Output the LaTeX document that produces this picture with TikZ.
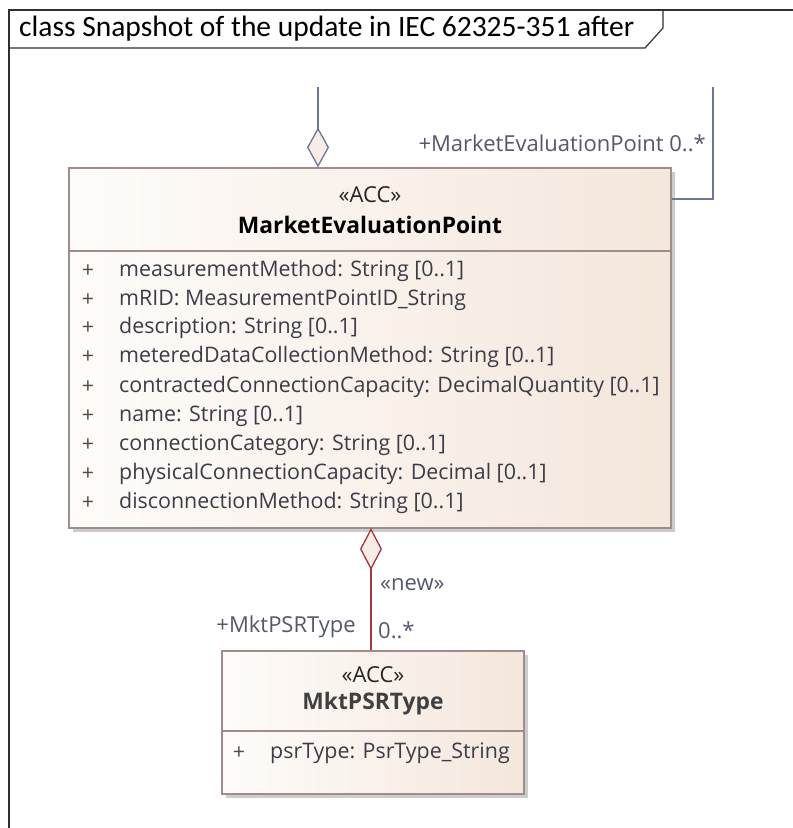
\documentclass[tikz,border=0pt]{standalone}
\usepackage{fontspec}
\setmainfont{Open Sans}
\newfontfamily\titlefont{Carlito}
\usetikzlibrary{arrows.meta,shadows,calc}
\definecolor{framecol}{HTML}{303030}
\definecolor{boxborder}{HTML}{A08C8C}
\definecolor{fillL}{HTML}{FEFCFA}
\definecolor{fillR}{HTML}{F4E7DC}
\definecolor{shadowcol}{HTML}{CCCCCC}
\definecolor{attrcol}{HTML}{3C3C48}
\definecolor{conncol}{HTML}{6B7894}
\definecolor{redcol}{HTML}{A3363C}
\definecolor{labcol}{HTML}{55586A}
\definecolor{diafill}{HTML}{F7ECE6}
\tikzset{
  classbox/.style={draw=boxborder, line width=1.2pt, shading=axis, left color=fillL, right color=fillR, inner sep=0pt,
    drop shadow={shadow xshift=4pt, shadow yshift=-4pt, fill=shadowcol, opacity=1}},
  divider/.style={draw=boxborder, line width=1.2pt},
  stereo/.style={font=\fontsize{22}{25}\selectfont, text=black!85, inner sep=0pt},
  cname/.style={font=\bfseries\fontsize{22.8}{26}\selectfont, text=black, inner sep=0pt},
  attr/.style={font=\fontsize{21.4}{24}\selectfont, text=attrcol, anchor=west, inner sep=0pt},
  plus/.style={font=\fontsize{21.4}{24}\selectfont, text=attrcol!80!brown, inner sep=0pt},
  conn/.style={draw=conncol, line width=1.3pt},
  redconn/.style={draw=redcol, line width=1.3pt},
  lab/.style={font=\fontsize{22}{25}\selectfont, text=labcol, inner sep=0pt},
}
\begin{document}
\begin{tikzpicture}[x=1pt,y=-1pt]
\useasboundingbox (0,0) rectangle (793,828);
% frame
\draw[framecol, line width=1.2pt] (9,828) -- (9,10) -- (793,10);
\draw[framecol, line width=1.2pt] (9,48) -- (645,48) -- (663,28) -- (663,10);
\node[anchor=west, inner sep=0pt, font=\titlefont\fontsize{29.5}{32}\selectfont] (title) at (19,29) {class Snapshot of the update in IEC 62325-351 after};

% MarketEvaluationPoint
\node[classbox, minimum width=602pt, minimum height=360pt] (mep) at (370,348) {};
\draw[divider] (mep.west |- 0,251) -- (mep.east |- 0,251);
\node[stereo] (mepst) at (370,195) {«ACC»};
\node[cname] (mepname) at (370,225) {MarketEvaluationPoint};
\foreach \y/\t [count=\i] in {271/{measurementMethod: String [0..1]},
  300/{mRID: MeasurementPointID\_String},
  328/{description: String [0..1]},
  357/{meteredDataCollectionMethod: String [0..1]},
  387/{contractedConnectionCapacity: DecimalQuantity [0..1]},
  416/{name: String [0..1]},
  445/{connectionCategory: String [0..1]},
  474/{physicalConnectionCapacity: Decimal [0..1]},
  503/{disconnectionMethod: String [0..1]}}{
  \node[plus] (mepp\i) at (88,\y) {+};
  \node[attr] (mepa\i) at (119,\y) {\t};
}

% MktPSRType
\node[classbox, minimum width=302pt, minimum height=143pt] (mkt) at (373,722.5) {};
\draw[divider] (mkt.west |- 0,731) -- (mkt.east |- 0,731);
\node[stereo] (mktst) at (373,675) {«ACC»};
\node[cname, text=black!75] (mktname) at (373,704) {MktPSRType};
\node[plus] (mktp) at (239,753) {+};
\node[attr] (mkta) at (270,753) {psrType: PsrType\_String};

% top connectors
\coordinate (c1) at (318,87);
\coordinate (c2) at (713,87);
\draw[conn, -{Diamond[length=40pt, width=22pt, open, fill=diafill, line width=1.3pt]}] (c1) -- (c1 |- mep.north);
\draw[conn] (c2) |- (mep.east |- 0,199);
\node[lab, anchor=east] (l1) at (706,143) {+MarketEvaluationPoint 0..*};

% bottom connector
\coordinate (c3) at (371,528);
\draw[redconn, {Diamond[length=42pt, width=22pt, open, fill=diafill, line width=1.3pt]}-] (c3) -- (c3 |- mkt.north);
\node[lab, anchor=west] (l2) at (380,585) {«new»};
\node[lab, anchor=east] (l3) at (356,627) {+MktPSRType};
\node[lab, anchor=west] (l4) at (378,630) {0..*};
\end{tikzpicture}
\end{document}
